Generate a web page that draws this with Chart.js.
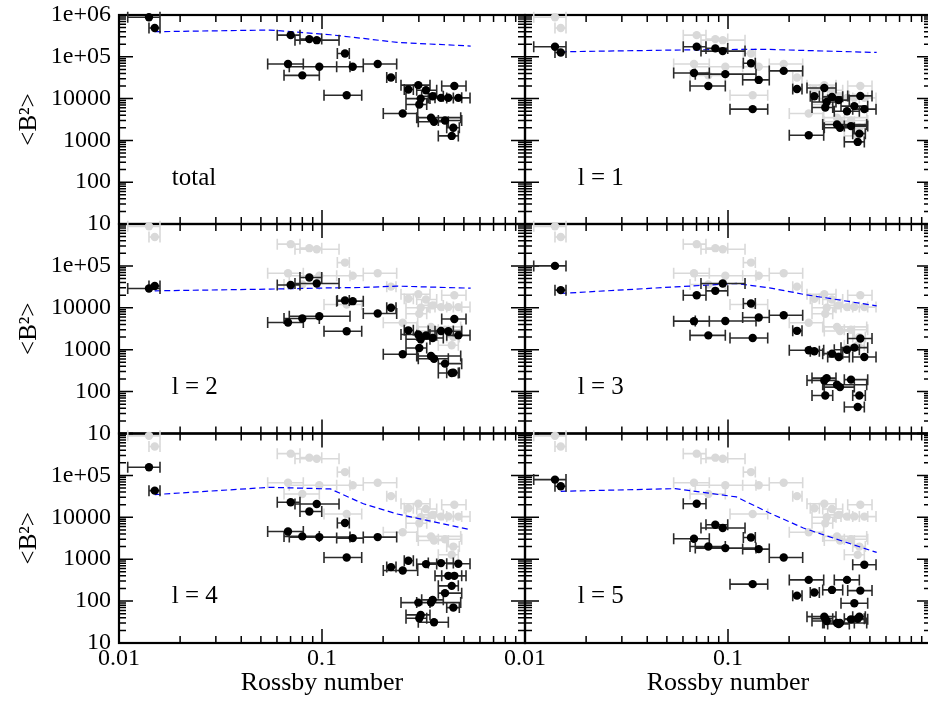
<!DOCTYPE html>
<html>
<head>
<meta charset="utf-8">
<title>Field strength vs Rossby number</title>
<script src="https://cdn.jsdelivr.net/npm/chart.js@4.4.1/dist/chart.umd.min.js"></script>
<style>
  html, body { margin: 0; padding: 0; background: #fff; }
  #wrap { position: relative; width: 928px; height: 704px; overflow: hidden; }
  #wrap canvas { position: absolute; left: 0; top: 0; }
</style>
</head>
<body>
<div id="wrap">
  <canvas id="p0" width="940" height="704"></canvas>
  <canvas id="p1" width="940" height="704"></canvas>
  <canvas id="p2" width="940" height="704"></canvas>
  <canvas id="p3" width="940" height="704"></canvas>
  <canvas id="p4" width="940" height="704"></canvas>
  <canvas id="p5" width="940" height="704"></canvas>
</div>
<script>
// Rossby number of each star with its lower / upper bound
const rossby   = [0.01405, 0.0150, 0.0701, 0.0866, 0.0942, 0.1298, 0.0680, 0.0800, 0.0970, 0.1417, 0.1881, 0.1323, 0.2187,
                  0.2498, 0.2662, 0.2981, 0.3063, 0.3015, 0.3253, 0.3510, 0.3443, 0.3562, 0.3857, 0.4036, 0.4191, 0.4486, 0.4694, 0.4436, 0.4355];
const rossbyLo = [0.01104, 0.01405, 0.0602, 0.0779, 0.0736, 0.1190, 0.0540, 0.0650, 0.0690, 0.1181, 0.1597, 0.1023, 0.2084,
                  0.2004, 0.2543, 0.2450, 0.2593, 0.2593, 0.2928, 0.3098, 0.2928, 0.2981, 0.3339, 0.3741, 0.3603, 0.3888, 0.4115, 0.4115, 0.3741];
const rossbyHi = [0.01592, 0.01592, 0.0779, 0.0997, 0.1213, 0.1363, 0.0809, 0.0970, 0.1374, 0.1597, 0.2333, 0.1569, 0.2315,
                  0.2961, 0.2818, 0.3404, 0.3404, 0.3280, 0.3673, 0.3959, 0.4823, 0.4191, 0.4436, 0.4877, 0.4877, 0.5122, 0.5360, 0.4748, 0.4694];

// <B^2> per star: total field and l = 1..5 components
const bTotal = [8.8e5, 4.9e5, 3.3e5, 2.65e5, 2.5e5, 1.2e5, 6.7e4, 3.6e4, 5.8e4, 5.8e4, 6.7e4, 1.2e4, 3.2e4,
                4.4e3, 1.65e4, 2.1e4, 1.0e4, 7.2e3, 1.58e4, 1.14e4, 3.5e3, 2.8e3, 1.04e4, 3.0e3, 1.05e4, 2.0e4, 1.04e4, 2.0e3, 1.28e3];
const bL1 = [1.74e5, 1.27e5, 1.74e5, 1.59e5, 1.37e5, 7.0e4, 4.1e4, 2.0e4, 3.85e4, 2.8e4, 4.6e4, 5.6e3, 1.7e4,
             1.33e3, 1.14e4, 1.8e4, 8.3e3, 6.1e3, 1.1e4, 9.2e3, 2.4e3, 2.0e3, 5.0e3, 2.2e3, 6.6e3, 1.16e4, 5.6e3, 1.45e3, 920];
const bL2 = [2.9e4, 3.3e4, 3.5e4, 5.3e4, 3.8e4, 1.5e4, 4.45e3, 5.55e3, 6.3e3, 1.44e4, 7.3e3, 2.75e3, 1.0e4,
             780, 2.9e3, 2.3e3, 1.78e3, 1.1e3, 2.2e3, 1.9e3, 710, 610, 2.8e3, 465, 2.76e3, 5.4e3, 2.2e3, 283, 277];
const bL3 = [1.0e5, 2.64e4, 2.0e4, 2.54e4, 3.8e4, 1.27e4, 4.8e3, 2.2e3, 4.86e3, 5.85e3, 6.65e3, 1.9e3, 2.82e3,
             970, 916, 185, 210, 81, 805, 668, 146, 128, 1.0e3, 193, 1.12e3, 1.85e3, 668, 81, 43];
const bL4 = [1.56e5, 4.33e4, 2.28e4, 1.38e4, 2.08e4, 7.3e3, 4.6e3, 3.5e3, 3.37e3, 3.19e3, 3.37e3, 1.1e3, 647,
             537, 916, 92, 46.8, 38.9, 764, 107, 92, 31.3, 807, 155, 401, 401, 776, 70, 231];
const bL5 = [7.94e4, 5.5e4, 2.11e4, 6.65e3, 5.55e3, 3.3e3, 3.08e3, 2.01e3, 1.84e3, 1.74e3, 1.1e3, 254, 135,
             321, 160, 42.6, 33.6, 38, 185, 28.5, 30, 30, 321, 36.7, 89, 178, 735, 42.6, 38];

// model curves (dashed)
const modelRo = [0.015, 0.055, 0.11, 0.16, 0.235, 0.54];
const modelTotal = [3.98e5, 4.37e5, 3.37e5, 2.75e5, 2.21e5, 1.81e5];
const modelL1 = [1.32e5, 1.45e5, 1.5e5, 1.5e5, 1.42e5, 1.27e5];
const modelL2 = [2.54e4, 2.79e4, 2.99e4, 3.06e4, 3.29e4, 2.94e4];
const modelL3 = [2.2e4, 3.16e4, 3.81e4, 3.0e4, 2.1e4, 1.11e4];
const modelL4 = [3.48e4, 5.19e4, 4.75e4, 2.1e4, 1.2e4, 5.05e3];
const modelL5 = [4.17e4, 4.83e4, 3.06e4, 1.27e4, 5.55e3, 1.45e3];

const panelNames = ['total', 'l = 1', 'l = 2', 'l = 3', 'l = 4', 'l = 5'];
const xTicks = [0.01, 0.1];
const xTickLabels = ['0.01', '0.1'];
const yTicks = [10, 100, 1000, 1e4, 1e5, 1e6];
const yTickLabels = ['10', '100', '1000', '10000', '1e+05', '1e+06'];

const panelValues = [bTotal, bL1, bL2, bL3, bL4, bL5];
const panelModels = [modelTotal, modelL1, modelL2, modelL3, modelL4, modelL5];

// panel frames in page pixels
const W = 940, H = 704;
const colLeft = [119, 525], colRight = [525, 931];
const rowTop = [15, 224, 433.5], rowBottom = [224, 433.5, 643];
const labelRo = 0.0182, labelB = 88;

const FONT = "'Liberation Serif', 'Times New Roman', serif";
Chart.defaults.font.family = FONT;
Chart.defaults.color = '#000';

function logSteps(min, max) {
  const out = [];
  for (let e = Math.floor(Math.log10(min)); e <= Math.ceil(Math.log10(max)); e++) {
    for (let k = 1; k <= 9; k++) {
      const v = k * Math.pow(10, e);
      if (v >= min * 0.999 && v <= max * 1.001) out.push({ v, major: k === 1 });
    }
  }
  return out;
}

// box + inward ticks on all four sides
const frameTicks = {
  id: 'frameTicks',
  beforeDatasetsDraw(chart) {
    const { ctx, chartArea: a, scales: { x, y } } = chart;
    ctx.save();
    ctx.strokeStyle = '#000';
    ctx.lineWidth = 1.5;
    ctx.beginPath();
    logSteps(x.min, x.max).forEach(t => {
      const px = x.getPixelForValue(t.v), len = t.major ? 14 : 7;
      ctx.moveTo(px, a.bottom); ctx.lineTo(px, a.bottom - len);
      ctx.moveTo(px, a.top); ctx.lineTo(px, a.top + len);
    });
    logSteps(y.min, y.max).forEach(t => {
      const py = y.getPixelForValue(t.v), len = t.major ? 14 : 7;
      ctx.moveTo(a.left, py); ctx.lineTo(a.left + len, py);
      ctx.moveTo(a.right, py); ctx.lineTo(a.right - len, py);
    });
    ctx.stroke();
    ctx.lineWidth = 2.2;
    ctx.strokeRect(a.left, a.top, a.right - a.left, a.bottom - a.top);
    ctx.restore();
  }
};

// horizontal error bars with caps
const errorBars = {
  id: 'errorBars',
  beforeDatasetDraw(chart, args) {
    const ds = chart.data.datasets[args.index];
    if (!ds.xLo) return;
    const { ctx, scales: { x, y } } = chart;
    ctx.save();
    ctx.strokeStyle = ds.barColor;
    ctx.lineWidth = 1.6;
    ctx.beginPath();
    ds.data.forEach((p, i) => {
      const py = y.getPixelForValue(p.y);
      const x0 = x.getPixelForValue(ds.xLo[i]);
      const x1 = x.getPixelForValue(ds.xHi[i]);
      ctx.moveTo(x0, py); ctx.lineTo(x1, py);
      ctx.moveTo(x0, py - 5.5); ctx.lineTo(x0, py + 5.5);
      ctx.moveTo(x1, py - 5.5); ctx.lineTo(x1, py + 5.5);
    });
    ctx.stroke();
    ctx.restore();
  }
};

const panelText = {
  id: 'panelText',
  afterDraw(chart, args, opts) {
    const { ctx, scales: { x, y } } = chart;
    ctx.save();
    ctx.font = '25px ' + FONT;
    ctx.fillStyle = '#000';
    ctx.textBaseline = 'alphabetic';
    ctx.fillText(opts.text, x.getPixelForValue(labelRo), y.getPixelForValue(labelB));
    ctx.restore();
  }
};

function points(values) {
  return values.map((v, i) => ({ x: rossby[i], y: v }));
}

function makePanel(idx) {
  const row = Math.floor(idx / 2), col = idx % 2;
  const isLeft = col === 0, isBottom = row === 2;

  const datasets = [
    {
      data: points(panelValues[idx]),
      xLo: rossbyLo, xHi: rossbyHi, barColor: '#2a2a2a',
      showLine: false, pointRadius: 4.2, pointBorderWidth: 0,
      pointBackgroundColor: '#000', clip: false
    },
    {
      data: modelRo.map((r, i) => ({ x: r, y: panelModels[idx][i] })),
      showLine: true, borderColor: '#0000ff', borderWidth: 1.2, borderDash: [6, 3.5],
      pointRadius: 0, fill: false, clip: false
    }
  ];
  if (idx > 0) {
    datasets.push({
      data: points(bTotal),
      xLo: rossbyLo, xHi: rossbyHi, barColor: '#d9d9d9',
      showLine: false, pointRadius: 4.2, pointBorderWidth: 0,
      pointBackgroundColor: '#d9d9d9', clip: false
    });
  }

  new Chart(document.getElementById('p' + idx), {
    type: 'scatter',
    data: { datasets },
    plugins: [frameTicks, errorBars, panelText],
    options: {
      responsive: false,
      animation: false,
      events: [],
      layout: {
        padding: {
          left: isLeft ? 0 : colLeft[1],
          right: W - colRight[col],
          top: rowTop[row],
          bottom: isBottom ? 0 : H - rowBottom[row]
        }
      },
      plugins: {
        legend: { display: false },
        tooltip: { enabled: false },
        panelText: { text: panelNames[idx] }
      },
      scales: {
        x: {
          type: 'logarithmic', min: 0.01, max: 1, display: isBottom,
          grid: { display: false, drawTicks: false },
          border: { display: false },
          afterBuildTicks: s => { s.ticks = xTicks.map(v => ({ value: v })); },
          afterFit: s => {
            s.height = isBottom ? H - rowBottom[2] : 0;
            s.paddingLeft = 0; s.paddingRight = 0;
          },
          ticks: {
            autoSkip: false, maxRotation: 0, padding: 1,
            font: { size: 24 },
            callback: v => xTickLabels[xTicks.indexOf(v)]
          },
          title: {
            display: true, text: 'Rossby number',
            font: { size: 26 }, padding: { top: 0, bottom: 5 }
          }
        },
        y: {
          type: 'logarithmic', min: 10, max: 1e6, display: isLeft,
          grid: { display: false, drawTicks: false },
          border: { display: false },
          afterBuildTicks: s => {
            s.ticks = yTicks.filter(v => row === 0 || v < 1e6).map(v => ({ value: v }));
          },
          afterFit: s => {
            s.width = isLeft ? colLeft[0] : 0;
            s.paddingTop = 0; s.paddingBottom = 0;
          },
          ticks: {
            autoSkip: false, padding: 8,
            font: { size: 24 },
            callback: v => yTickLabels[yTicks.indexOf(v)]
          },
          title: {
            display: true, text: '<B²>',
            font: { size: 25 }, padding: { top: 14, bottom: 0 }
          }
        }
      }
    }
  });
}

for (let i = 0; i < 6; i++) makePanel(i);
</script>
</body>
</html>
